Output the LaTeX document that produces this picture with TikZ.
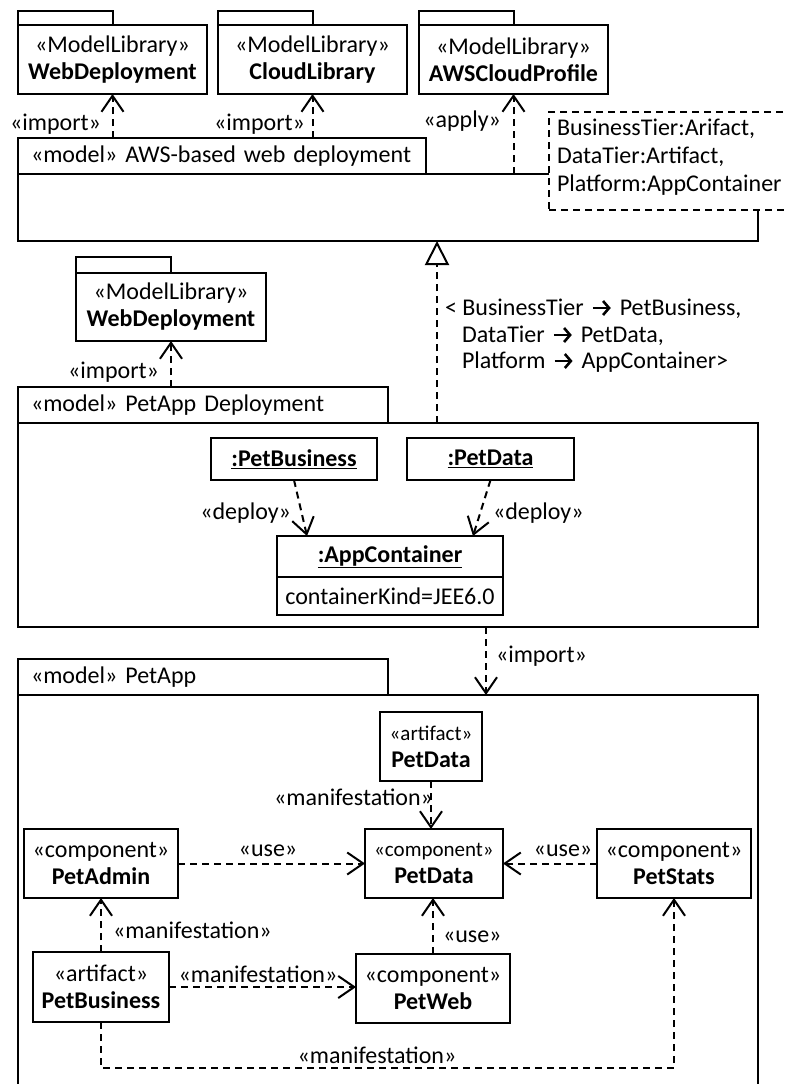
\documentclass[tikz,border=0pt]{standalone}
\usepackage{fontspec}
\setmainfont{Carlito}
\usetikzlibrary{arrows.meta}
\begin{document}
\begin{tikzpicture}[x=1pt,y=-1pt,
  every node/.style={font=\fontsize{24}{27}\selectfont, inner sep=0pt, outer sep=0pt},
  box/.style={draw, line width=2pt, fill=white, align=center},
  header/.style={box, align=left, inner xsep=13pt, minimum height=36pt, anchor=south west},
  pkgtab/.style={box, minimum width=95pt, anchor=south west},
  dep/.style={line width=2pt, dash pattern=on 7pt off 5pt,
    -{Straight Barb[length=16pt,width=22pt,line width=2pt]}},
  gen/.style={line width=2pt, dash pattern=on 7pt off 5pt,
    -{Triangle[length=24pt,width=24pt,line width=2pt,fill=white]}},
  note/.style={draw, line width=2pt, dash pattern=on 7pt off 5pt, fill=white},
  maparrow/.style={line width=2.6pt, -{Straight Barb[length=6pt,width=14pt,line width=2.6pt]}}
]
\fill[white] (0,0) rectangle (787,1084);
\useasboundingbox (0,0) rectangle (787,1084);

% ---------- model libraries ----------
\node[pkgtab, minimum height=14pt] (pkgAtab) at (18,25) {};
\node[box, minimum width=189pt, minimum height=69pt, anchor=north west] (pkgA) at (18,25)
  {«ModelLibrary»\\\textbf{WebDeployment}};
\node[pkgtab, minimum height=14pt] (pkgBtab) at (218,25) {};
\node[box, minimum width=189pt, minimum height=69pt, anchor=north west] (pkgB) at (218,25)
  {«ModelLibrary»\\\textbf{CloudLibrary}};
\node[pkgtab, minimum height=14pt] (pkgCtab) at (419,25) {};
\node[box, minimum width=189pt, minimum height=69pt, anchor=north west] (pkgC) at (419,25)
  {«ModelLibrary»\\\textbf{AWSCloudProfile}};

% ---------- AWS-based web deployment ----------
\node[box, minimum width=740pt, minimum height=67pt, anchor=north west] (awsbody) at (18,174) {};
\node[header, text width=382pt] (awshead) at (18,174) {«model» AWS-based web deployment};
\node[note, minimum width=260pt, minimum height=98pt, anchor=north west] (note) at (549,112) {};
\node[anchor=base west] (noteA) at (557,135) {BusinessTier:Arifact,};
\node[anchor=base west] (noteB) at (557,163) {DataTier:Artifact,};
\node[anchor=base west] (noteC) at (557,191) {Platform:AppContainer};

\draw[dep] (awshead.north -| pkgA.south) -- (pkgA.south);
\draw[dep] (awshead.north -| pkgB.south) -- (pkgB.south);
\draw[dep] (awsbody.north -| pkgC.south) -- (pkgC.south);
\node[anchor=base east] (impA) at (101,130) {«import»};
\node[anchor=base east] (impB) at (305,130) {«import»};
\node[anchor=base east] (apply) at (501,127) {«apply»};

% ---------- PetApp Deployment ----------
\node[pkgtab, minimum height=16pt] (pkgDtab) at (76,273) {};
\node[box, minimum width=190pt, minimum height=68pt, anchor=north west] (pkgD) at (76,273)
  {«ModelLibrary»\\\textbf{WebDeployment}};

\node[box, minimum width=740pt, minimum height=204pt, anchor=north west] (depbody) at (18,423) {};
\node[header, text width=344pt] (dephead) at (18,423) {«model» PetApp Deployment};
\draw[dep] (dephead.north -| pkgD.south) -- (pkgD.south);
\node[anchor=base east] (impD) at (159,378) {«import»};

% template binding, with a thick arrow between each pair of names
\coordinate (gx) at (437,0);
\draw[gen] (depbody.north -| gx) -- (awsbody.south -| gx);
\node[anchor=base west] (bindA) at (445,315) {< BusinessTier};
\draw[maparrow] ([xshift=9pt,yshift=7pt]bindA.base east) -- ++(18,0);
\node[anchor=base west] (bindAt) at ([xshift=36pt]bindA.base east) {PetBusiness,};
\node[anchor=base west] (bindB) at (462,342) {DataTier};
\draw[maparrow] ([xshift=9pt,yshift=7pt]bindB.base east) -- ++(18,0);
\node[anchor=base west] (bindBt) at ([xshift=36pt]bindB.base east) {PetData,};
\node[anchor=base west] (bindC) at (462,368) {Platform};
\draw[maparrow] ([xshift=9pt,yshift=7pt]bindC.base east) -- ++(18,0);
\node[anchor=base west] (bindCt) at ([xshift=36pt]bindC.base east) {AppContainer>};

\node[box, minimum width=166pt, minimum height=42pt, anchor=north west] (obiz) at (211,438)
  {\underline{\textbf{:PetBusiness}}};
\node[box, minimum width=167pt, minimum height=42pt, anchor=north west] (odata) at (407,438)
  {\underline{\textbf{:PetData}}};
\node[box, minimum width=226pt, minimum height=41pt, anchor=north west] (oapp) at (277,536)
  {\underline{\textbf{:AppContainer}}};
\node[box, minimum width=226pt, minimum height=38pt, anchor=north west] (oattr) at (277,577)
  {containerKind=JEE6.0};
\draw[dep] (obiz.south) -- ([xshift=30pt]oapp.north west);
\draw[dep] (odata.south) -- ([xshift=-30pt]oapp.north east);
\node[anchor=base east] (depL) at (291,519) {«deploy»};
\node[anchor=base west] (depR) at (493,519) {«deploy»};

% ---------- PetApp ----------
\node[box, minimum width=740pt, minimum height=420pt, anchor=north west] (appbody) at (18,695) {};
\node[header, text width=344pt] (apphead) at (18,695) {«model» PetApp};
\coordinate (ix) at (486,0);
\draw[dep] (depbody.south -| ix) -- (appbody.north -| ix);
\node[anchor=base west] (impE) at (496,662) {«import»};

\node[box, minimum width=102pt, minimum height=69pt, anchor=north west] (aPD) at (380,712)
  {{\fontsize{21}{27}\selectfont «artifact»}\\\textbf{PetData}};
\node[box, minimum width=138pt, minimum height=69pt, anchor=north west] (cPD) at (365,829)
  {{\fontsize{21}{27}\selectfont «component»}\\\textbf{PetData}};
\node[box, minimum width=154pt, minimum height=69pt, anchor=north west] (pAdmin) at (24,829)
  {«component»\\\textbf{PetAdmin}};
\node[box, minimum width=154pt, minimum height=69pt, anchor=north west] (pStats) at (597,829)
  {«component»\\\textbf{PetStats}};
\node[box, minimum width=136pt, minimum height=70pt, anchor=north west] (pBus) at (33,952)
  {«artifact»\\\textbf{PetBusiness}};
\node[box, minimum width=154pt, minimum height=69pt, anchor=north west] (pWeb) at (356,954)
  {«component»\\\textbf{PetWeb}};

\draw[dep] (aPD.south) -- (aPD.south |- cPD.north);
\node[anchor=base east] (manA) at (433,805) {«manifestation»};
\draw[dep] (pAdmin.east) -- (cPD.west);
\node[anchor=base] (useA) at (268,856) {«use»};
\draw[dep] (pStats.west) -- (cPD.east);
\node[anchor=base] (useB) at (563,856) {«use»};
\draw[dep] (pBus.north) -- (pBus.north |- pAdmin.south);
\node[anchor=base west] (manB) at (113,938) {«manifestation»};
\draw[dep] (pBus.east) -- (pBus.east -| pWeb.west);
\node[anchor=base] (manC) at (258,982) {«manifestation»};
\draw[dep] (pWeb.north) -- (pWeb.north |- cPD.south);
\node[anchor=base west] (useC) at (443,942) {«use»};
\coordinate (mrow) at (0,1068);
\draw[dep] (pBus.south) -- (pBus.south |- mrow) -| (pStats.south);
\node[anchor=base] (manD) at (377,1063) {«manifestation»};
\end{tikzpicture}
\end{document}
